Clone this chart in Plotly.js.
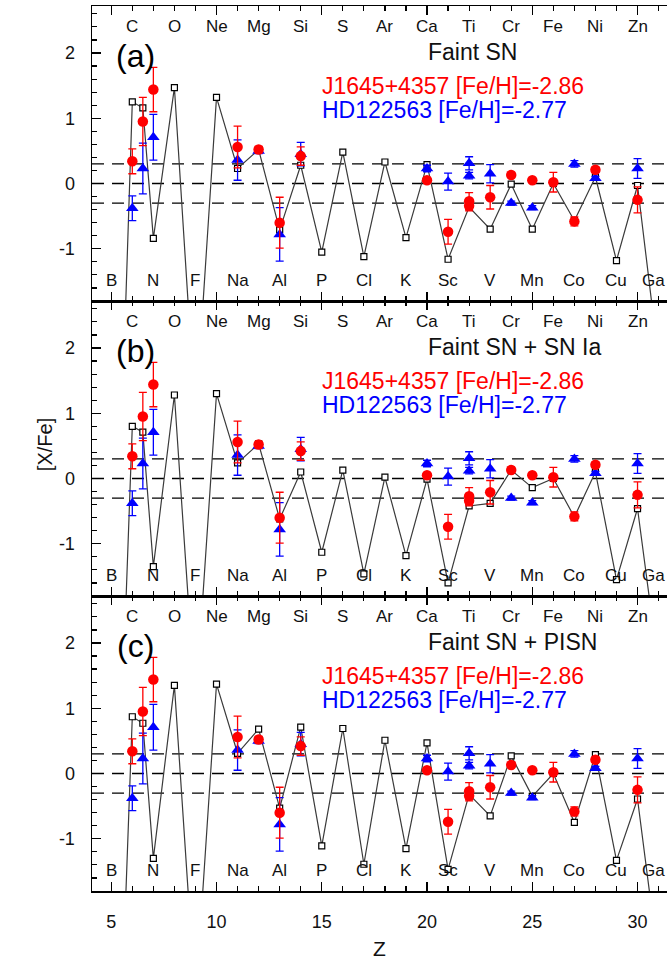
<!DOCTYPE html>
<html>
<head>
<meta charset="utf-8">
<script src="https://cdn.plot.ly/plotly-3.0.1.min.js"></script>
<style>html,body{margin:0;padding:0;background:#fff;overflow:hidden}</style>
</head>
<body>
<div id="chart" style="width:667px;height:960px"></div>
<script>
// ---------- data ----------
const modelZ = [5, 6, 6.5, 7, 8, 9, 10, 11, 12, 13, 14, 15, 16, 17, 18, 19, 20, 21, 22, 23, 24, 25, 26, 27, 28, 29, 30, 31];
const modelFaintSN = [-8.6, 1.25, 1.16, -0.84, 1.47, -3.6, 1.32, 0.23, 0.52, -0.71, 0.28, -1.05, 0.48, -1.12, 0.33, -0.83, 0.29, -1.16, -0.36, -0.70, -0.01, -0.70, 0.00, -0.57, 0.10, -1.18, -0.03, -2.7];
const modelFaintSNIa = [-8.1, 0.80, 0.71, -1.35, 1.28, -3.5, 1.30, 0.24, 0.53, -0.62, 0.10, -1.13, 0.13, -1.46, 0.02, -1.18, -0.01, -1.60, -0.42, -0.38, 0.13, -0.14, 0.00, -0.59, 0.10, -1.55, -0.46, -2.9];
const modelFaintPISN = [-8.0, 0.87, 0.77, -1.30, 1.35, -3.5, 1.37, 0.31, 0.68, -0.53, 0.71, -1.11, 0.69, -1.39, 0.51, -1.15, 0.47, -1.47, -0.32, -0.65, 0.27, -0.35, 0.00, -0.75, 0.29, -1.33, -0.39, -2.9];

const j1645Z   = [6, 6.5, 7, 11, 12, 13, 14, 20, 21, 22, 22, 23, 24, 25, 26, 27, 28, 30];
const j1645    = [0.34, 0.95, 1.44, 0.56, 0.52, -0.60, 0.42, 0.05, -0.74, -0.27, -0.34, -0.21, 0.13, 0.05, 0.02, -0.58, 0.21, -0.25];
const j1645Err = [0.19, 0.37, 0.34, 0.32, 0.05, 0.39, 0.14, 0.04, 0.19, 0.13, 0.08, 0.18, 0.00, 0.00, 0.15, 0.07, 0.04, 0.20];

const hdZ   = [6, 6.5, 7, 11, 12, 13, 14, 20, 21, 22, 22, 23, 24, 25, 27, 28, 30];
const hd    = [-0.38, 0.23, 0.71, 0.36, 0.50, -0.78, 0.45, 0.23, 0.03, 0.31, 0.12, 0.15, -0.30, -0.37, 0.30, 0.08, 0.23];
const hdErr = [0.19, 0.39, 0.35, 0.31, 0.04, 0.41, 0.18, 0.05, 0.13, 0.10, 0.05, 0.14, 0.03, 0.03, 0.05, 0.03, 0.15];

const topElems = ['C', 'O', 'Ne', 'Mg', 'Si', 'S', 'Ar', 'Ca', 'Ti', 'Cr', 'Fe', 'Ni', 'Zn'];
const topElemZ = [6, 8, 10, 12, 14, 16, 18, 20, 22, 24, 26, 28, 30];
const botElems = ['B', 'N', 'F', 'Na', 'Al', 'P', 'Cl', 'K', 'Sc', 'V', 'Mn', 'Co', 'Cu', 'Ga'];
const botElemZ = [5, 7, 9, 11, 13, 15, 17, 19, 21, 23, 25, 27, 29, 31];

const refLevels = [0.3, 0, -0.3];
const yTickVals = [-1, 0, 1, 2];
const yTickText = ['-1', '0', '1', '2'];

const panelLetters = ['(a)', '(b)', '(c)'];
const panelModels = ['Faint SN', 'Faint SN + SN Ia', 'Faint SN + PISN'];
const modelSeries = [modelFaintSN, modelFaintSNIa, modelFaintPISN];
const starLabels = ['J1645+4357 [Fe/H]=-2.86', 'HD122563 [Fe/H]=-2.77'];

// ---------- build ----------
const FONT = 'Liberation Sans, Arial, Helvetica, sans-serif';
const RED = '#ff0000', BLUE = '#0000ff';
const XRANGE = [4.085, 31.4];
const axSuffix = ['', '2', '3'];
const traces = [];
const shapes = [];
const annotations = [];

for (let p = 0; p < 3; p++) {
  const xa = 'x' + axSuffix[p], ya = 'y' + axSuffix[p];
  traces.push({
    x: modelZ, y: modelSeries[p], xaxis: xa, yaxis: ya, type: 'scatter', mode: 'lines+markers',
    line: {color: '#3a3a3a', width: 1.2},
    marker: {symbol: 'square', size: 6, color: '#ffffff', line: {color: '#000', width: 1.2}},
    cliponaxis: true, showlegend: false
  });
  traces.push({
    x: hdZ, y: hd, xaxis: xa, yaxis: ya, type: 'scatter', mode: 'markers',
    marker: {symbol: 'triangle-up', size: 11, color: BLUE},
    error_y: {type: 'data', array: hdErr, visible: true, color: BLUE, thickness: 1.3, width: 4},
    showlegend: false
  });
  traces.push({
    x: j1645Z, y: j1645, xaxis: xa, yaxis: ya, type: 'scatter', mode: 'markers',
    marker: {symbol: 'circle', size: 10.5, color: RED},
    error_y: {type: 'data', array: j1645Err, visible: true, color: RED, thickness: 1.3, width: 4},
    showlegend: false
  });
  refLevels.forEach(v => shapes.push({
    type: 'line', xref: 'paper', x0: 0, x1: 1, yref: ya, y0: v, y1: v,
    line: {color: '#000', width: 1.3, dash: '12px,8px'}, layer: 'below'
  }));
  topElems.forEach((t, i) => annotations.push({
    text: t, x: topElemZ[i], y: 2.41, xref: xa, yref: ya, showarrow: false,
    font: {family: FONT, size: 17, color: '#111'}
  }));
  botElems.forEach((t, i) => {
    const last = botElemZ[i] > XRANGE[1] - 0.5;
    annotations.push({
      text: t, x: last ? XRANGE[1] : botElemZ[i], xanchor: last ? 'right' : 'center',
      y: -1.48, xref: xa, yref: ya, showarrow: false,
      font: {family: FONT, size: 17, color: '#111'}
    });
  });
  annotations.push({text: panelLetters[p], xref: xa, x: 6.15, xanchor: 'center', yref: ya, y: 1.95,
    showarrow: false, font: {family: FONT, size: 32, color: '#000'}});
  annotations.push({text: panelModels[p], xref: 'paper', x: 0.58, xanchor: 'left', yref: ya, y: 2.02,
    showarrow: false, font: {family: FONT, size: 23, color: '#111'}});
  annotations.push({text: starLabels[0], xref: 'paper', x: 0.397, xanchor: 'left', yref: ya, y: 1.50,
    showarrow: false, font: {family: FONT, size: 23, color: RED}});
  annotations.push({text: starLabels[1], xref: 'paper', x: 0.397, xanchor: 'left', yref: ya, y: 1.12,
    showarrow: false, font: {family: FONT, size: 23, color: BLUE}});
}
annotations.push({text: '[X/Fe]', xref: 'paper', x: -0.104, yref: 'paper', y: 0.504, textangle: -90,
  showarrow: false, font: {family: FONT, size: 20, color: '#111'}});

const layout = {
  width: 667, height: 960,
  margin: {l: 92, r: 0, t: 6, b: 69},
  paper_bgcolor: '#fff', plot_bgcolor: '#fff',
  showlegend: false,
  shapes: shapes, annotations: annotations,
  font: {family: FONT, color: '#111'}
};
const domains = [[2/3, 1], [1/3, 2/3], [0, 1/3]];
for (let p = 0; p < 3; p++) {
  const s = axSuffix[p];
  layout['xaxis' + s] = {
    anchor: 'y' + s, range: XRANGE, showline: true, linecolor: '#000', linewidth: 1.5,
    mirror: 'ticks', ticks: 'inside', ticklen: 9, tickwidth: 1.3, tickcolor: '#000',
    tickmode: 'linear', tick0: 5, dtick: 5,
    minor: {tickmode: 'linear', tick0: 5, dtick: 1, ticks: 'inside', ticklen: 5, tickwidth: 1.2, tickcolor: '#000'},
    showgrid: false, zeroline: false, showticklabels: p === 2,
    tickfont: {family: FONT, size: 18, color: '#111'}, ticklabelstandoff: 14,
    title: p === 2 ? {text: 'Z', font: {family: FONT, size: 21, color: '#111'}, standoff: 14} : {text: ''}
  };
  if (p > 0) layout['xaxis' + s].matches = 'x';
  layout['yaxis' + s] = {
    anchor: 'x' + s, domain: domains[p], range: [-1.8, 2.72], showline: true, linecolor: '#000', linewidth: 1.5,
    mirror: false, ticks: 'inside', ticklen: 9, tickwidth: 1.3, tickcolor: '#000',
    tickmode: 'array', tickvals: yTickVals, ticktext: yTickText,
    minor: {tickmode: 'linear', tick0: 0, dtick: 0.2, ticks: 'inside', ticklen: 5, tickwidth: 1.2, tickcolor: '#000'},
    showgrid: false, zeroline: false,
    tickfont: {family: FONT, size: 18, color: '#111'}, ticklabelstandoff: 12,
    title: {text: ''}
  };
}

Plotly.newPlot('chart', traces, layout, {staticPlot: true, displayModeBar: false});
</script>
</body>
</html>
